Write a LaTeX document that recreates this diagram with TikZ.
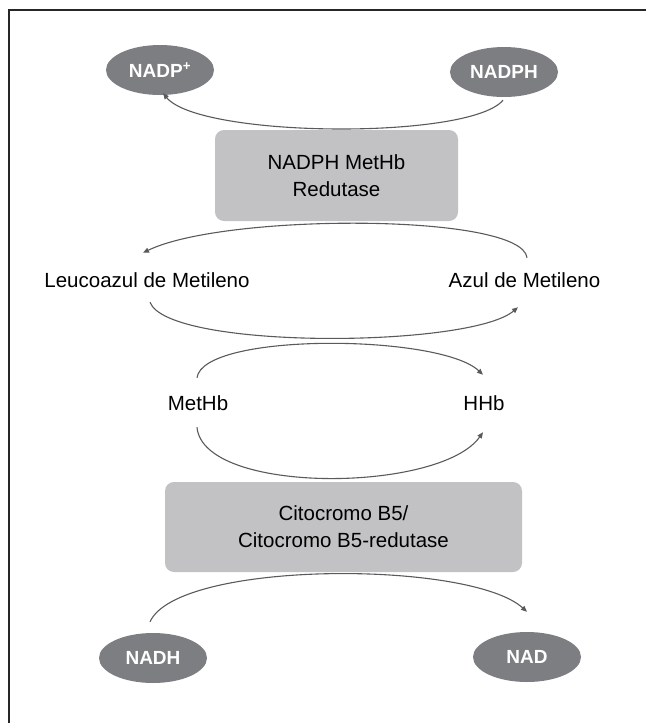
\documentclass[tikz,border=0pt]{standalone}
\usepackage{fontspec}
\setmainfont{Liberation Sans}
\usetikzlibrary{shapes.geometric,arrows.meta}
\definecolor{ellgray}{HTML}{7C7E81}
\definecolor{boxgray}{HTML}{C2C2C4}
\definecolor{arcgray}{HTML}{5A5A5C}
\tikzset{
  cofactor/.style={ellipse, fill=ellgray, text=white, inner sep=0pt,
    minimum width=108pt, minimum height=50pt,
    font=\fontsize{19}{22}\selectfont\bfseries},
  enzyme/.style={rectangle, rounded corners=9pt, fill=boxgray, inner sep=0pt,
    align=center, font=\fontsize{20.5}{27}\selectfont},
  lbl/.style={inner sep=0pt, font=\fontsize{20.5}{24}\selectfont},
  conn/.style={draw=arcgray, line width=1.1pt,
    -{Triangle[length=6pt,width=5pt]}},
}
\begin{document}
\begin{tikzpicture}[x=1pt,y=-1pt]
\useasboundingbox (0,0) rectangle (646,723);
% frame
\draw[line width=2pt, black!85] (9,723) -- (9,10) -- (646,10);
% nodes
\node[cofactor] (nadp) at (160,70) {NADP\textsuperscript{+}};
\node[cofactor] (nadph) at (504,72) {NADPH};
\node[enzyme, minimum width=243pt, minimum height=91pt] (b1) at (336.5,175.5)
  {NADPH MetHb\\Redutase};
\node[lbl] (leu) at (147,280) {Leucoazul de Metileno};
\node[lbl] (azul) at (524.5,280) {Azul de Metileno};
\node[lbl] (methb) at (198,403) {MetHb};
\node[lbl] (hhb) at (484,403) {HHb};
\node[enzyme, minimum width=357pt, minimum height=90pt] (b2) at (343.5,527)
  {Citocromo B5/\\Citocromo B5-redutase};
\node[cofactor] (nadh) at (153,658) {NADH};
\node[cofactor] (nad) at (527,657) {NAD};
% connectors (yshift positive = upwards)
\draw[conn] ([xshift=-1pt,yshift=-3pt]nadph.south) .. controls (470,140) and (200,138) .. ([xshift=3pt,yshift=2pt]nadp.south);
\draw[conn] ([xshift=2.5pt,yshift=14.5pt]azul.north) .. controls (522,213) and (225,213) .. ([xshift=-4pt,yshift=19.5pt]leu.north);
\draw[conn] ([xshift=3pt,yshift=-14.5pt]leu.south) .. controls (168,350) and (470,348) .. ([xshift=-6.5pt,yshift=-19.5pt]azul.south);
\draw[conn] ([xshift=-1pt,yshift=17.5pt]methb.north) .. controls (203,332) and (440,334) .. ([xshift=-1pt,yshift=20.5pt]hhb.north);
\draw[conn] ([xshift=-1pt,yshift=-16.5pt]methb.south) .. controls (203,495) and (440,493) .. ([xshift=-1pt,yshift=-21.5pt]hhb.south);
\draw[conn] ([xshift=-3pt,yshift=11pt]nadh.north) .. controls (178,560) and (470,560) .. ([yshift=20pt]nad.north);
\end{tikzpicture}
\end{document}
